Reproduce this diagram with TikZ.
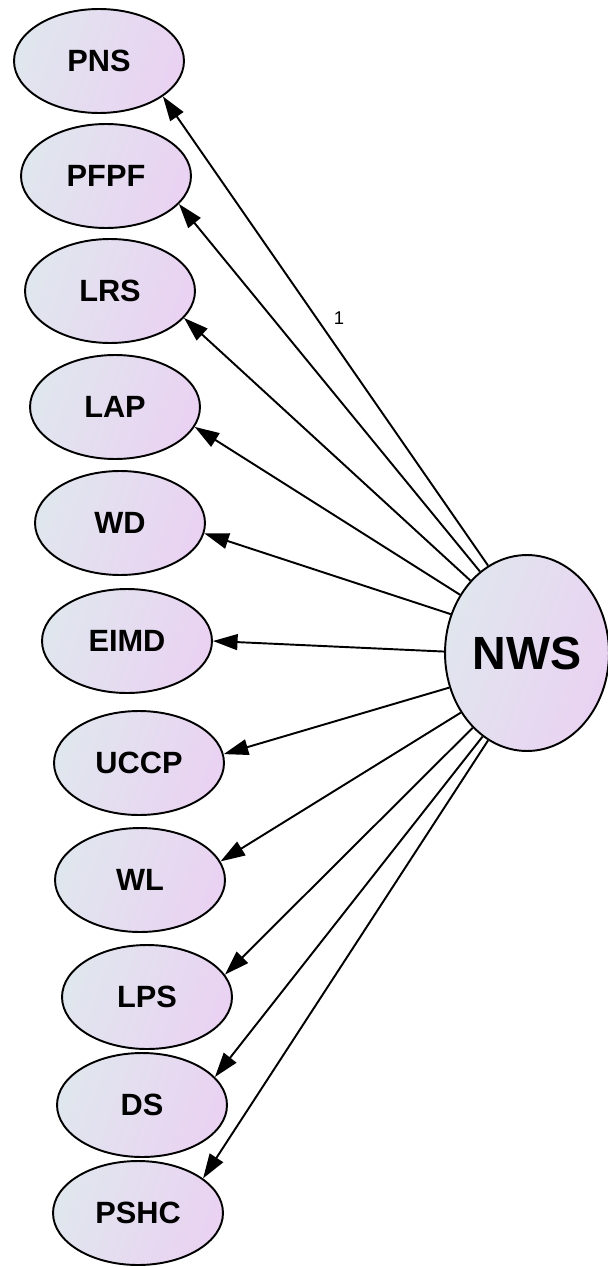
\documentclass[tikz,border=0pt]{standalone}
\usepackage{fontspec}
\setmainfont{Liberation Sans}
\usetikzlibrary{shapes.geometric,arrows.meta}

\definecolor{shadeL}{HTML}{E0E6EE}
\definecolor{shadeR}{HTML}{EAD2F2}

\begin{document}
\begin{tikzpicture}[x=0.02cm, y=-0.02cm,
    item/.style={ellipse, draw, line width=1.1pt, left color=shadeL, right color=shadeR,
        shading angle=70, minimum width=3.4cm, minimum height=2.08cm, inner sep=0pt,
        font=\fontsize{17.5}{20}\selectfont\bfseries},
    factor/.style={ellipse, draw, line width=1.1pt, left color=shadeL, right color=shadeR,
        shading angle=70, minimum width=3.28cm, minimum height=3.92cm, inner sep=0pt,
        font=\fontsize{26.5}{30}\selectfont\bfseries},
    load/.style={draw, line width=1.1pt, -{Triangle[length=14pt, width=9pt]}},
    lbl/.style={font=\fontsize{10.5}{12}\selectfont}]
        \useasboundingbox (0,0) rectangle (608,1267);

        % Nodes
        \node (pns) [item] at (99, 61) {PNS};
        \node (pfpf) [item] at (106, 176) {PFPF};
        \node (lrs) [item] at (110, 291) {LRS};
        \node (lap) [item] at (115, 407) {LAP};
        \node (wd) [item] at (120, 523) {WD};
        \node (eimd) [item] at (127, 641) {EIMD};
        \node (uccp) [item] at (139, 763) {UCCP};
        \node (wl) [item] at (140, 880) {WL};
        \node (lps) [item] at (147, 997) {LPS};
        \node (ds) [item] at (142, 1105) {DS};
        \node (pshc) [item] at (138, 1213) {PSHC};
        \node (nws) [factor] at (527, 653) {NWS};
        \node (w1) [lbl] at (339, 318) {1};

        % Edges
        \draw[load] (nws.114) -- (pns.-29);
        \draw[load] (nws.120) -- (pfpf.-21);
        \draw[load] (nws.128) -- (lrs.-20);
        \draw[load] (nws.139) -- (lap.-14);
        \draw[load] (nws.153) -- (wd.-7);
        \draw[load] (nws.179) -- (eimd.0);
        \draw[load] (nws.204) -- (uccp.6);
        \draw[load] (nws.222) -- (wl.13);
        \draw[load] (nws.234) -- (lps.16);
        \draw[load] (nws.242) -- (ds.21);
        \draw[load] (nws.246) -- (pshc.28);

\end{tikzpicture}
\end{document}
